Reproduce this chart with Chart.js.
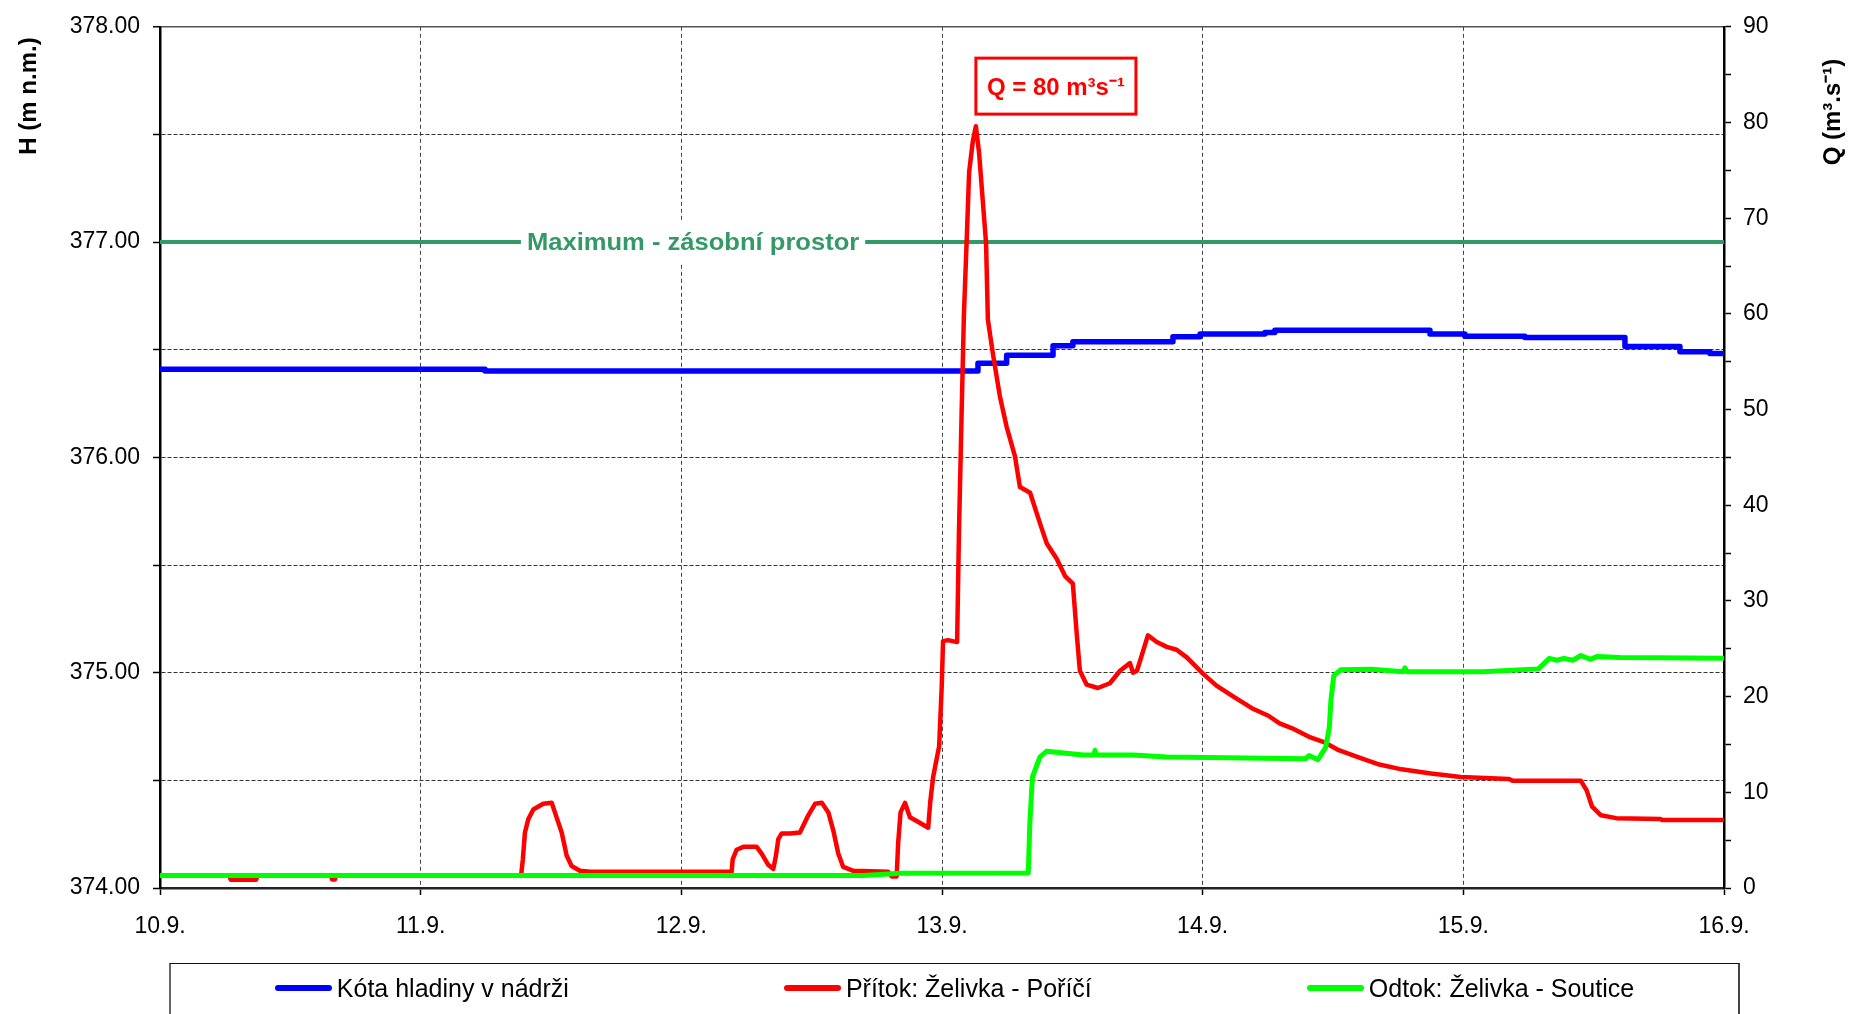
<!DOCTYPE html>
<html>
<head>
<meta charset="utf-8">
<script src="https://cdn.jsdelivr.net/npm/chart.js@4.4.1/dist/chart.umd.min.js"></script>
<style>
html,body{margin:0;padding:0;background:#fff;overflow:hidden;width:1849px;height:1014px}
#wrap{position:relative;width:1849px;height:1014px}
#c{position:absolute;left:0;top:0}
#legend{position:absolute;left:169px;top:963px;width:1571px;height:80px;box-sizing:border-box;
  border-top:1px solid #111;border-left:2px solid #666;border-right:2px solid #444;
  display:flex;justify-content:center;align-items:flex-start;gap:215px;padding-top:10px;
  font-family:"Liberation Sans",Arial,sans-serif;font-size:25px;color:#000}
.item{display:flex;align-items:center;white-space:nowrap;line-height:28px}
.swatch{width:57px;height:6px;border-radius:3px;margin-right:5px}
</style>
</head>
<body>
<div id="wrap">
<canvas id="c" width="1849" height="1014" style="width:1849px;height:1014px"></canvas>
<div id="legend"></div>
</div>
<script>
// ---- tick labels (x = days since 10.9.) ----
const xLabels = ['10.9.', '11.9.', '12.9.', '13.9.', '14.9.', '15.9.', '16.9.'];

// ---- Kóta hladiny v nádrži (m n.m.), stepwise ----
const levelT = [0, 1.247, 3.138, 3.248, 3.426, 3.502, 3.886, 3.99, 4.239, 4.277, 4.872, 5.006, 5.236, 5.620, 5.831, 5.946, 6.0];
const levelH = [376.41, 376.401, 376.437, 376.475, 376.518, 376.537, 376.56, 376.573, 376.580, 376.591, 376.573, 376.563, 376.557, 376.515, 376.491, 376.483, 376.483];

// ---- Přítok: Želivka - Poříčí (m3/s) ----
const inflowT = [0, 0.265, 0.272, 0.368, 0.376, 0.656, 0.660, 0.671, 0.675, 1.384, 1.386, 1.392, 1.400, 1.413, 1.432, 1.470, 1.503, 1.515, 1.541, 1.560, 1.579, 1.611, 1.65,
  2.193, 2.197, 2.212, 2.238, 2.289, 2.308, 2.334, 2.353, 2.363, 2.372, 2.385, 2.417, 2.455, 2.487, 2.513, 2.539, 2.564, 2.583, 2.602, 2.621, 2.660,
  2.794, 2.807, 2.826, 2.832, 2.841, 2.858, 2.877, 2.903, 2.947, 2.955, 2.966, 2.989, 2.999, 3.004, 3.023, 3.058, 3.065, 3.075, 3.084, 3.095, 3.104,
  3.118, 3.130, 3.142, 3.157, 3.169, 3.176, 3.196, 3.222, 3.248, 3.280, 3.299, 3.338, 3.376, 3.402, 3.440, 3.472, 3.502, 3.517, 3.529, 3.555,
  3.598, 3.644, 3.683, 3.721, 3.733, 3.748, 3.790, 3.824, 3.862, 3.900, 3.939, 4.001, 4.053, 4.124, 4.195, 4.252, 4.295, 4.351, 4.408, 4.465,
  4.522, 4.593, 4.678, 4.763, 4.876, 4.990, 5.175, 5.189, 5.451, 5.473, 5.494, 5.528, 5.586, 5.757, 5.762, 6.0];
const inflowQ = [1.3, 1.3, 0.85, 0.85, 1.3, 1.3, 0.9, 0.9, 1.3, 1.3, 1.5, 3.0, 5.8, 7.2, 8.2, 8.8, 8.9, 7.9, 5.8, 3.4, 2.3, 1.8, 1.7,
  1.7, 3.0, 4.0, 4.3, 4.3, 3.6, 2.4, 2.0, 3.4, 5.1, 5.7, 5.7, 5.8, 7.6, 8.8, 8.9, 7.9, 6.0, 3.6, 2.2, 1.8,
  1.7, 1.2, 1.2, 4.8, 7.9, 8.9, 7.4, 7.0, 6.3, 9.0, 11.6, 14.8, 21.1, 25.8, 25.9, 25.7, 37.1, 49.3, 59.9, 67.9, 74.8,
  78.0, 79.6, 76.9, 71.6, 67.4, 59.4, 55.7, 51.4, 48.2, 45.1, 41.9, 41.3, 38.1, 36.0, 34.4, 32.6, 31.8, 26.5, 22.7, 21.25,
  20.9, 21.4, 22.7, 23.5, 22.5, 22.7, 26.4, 25.7, 25.2, 24.9, 24.1, 22.4, 21.15, 19.9, 18.7, 18.0, 17.2, 16.6, 15.8, 15.25,
  14.4, 13.7, 12.9, 12.4, 11.96, 11.6, 11.4, 11.2, 11.2, 10.2, 8.5, 7.6, 7.3, 7.2, 7.1, 7.1];

// ---- Odtok: Želivka - Soutice (m3/s) ----
const outflowT = [0, 2.70, 2.84, 3.331, 3.337, 3.347, 3.376, 3.402, 3.542, 3.583, 3.587, 3.591, 3.733, 3.862, 4.394, 4.408, 4.442, 4.472, 4.486, 4.492,
  4.503, 4.529, 4.649, 4.768, 4.776, 4.784, 5.075, 5.288, 5.330, 5.359, 5.386, 5.420, 5.451, 5.486, 5.515, 5.601, 6.0];
const outflowQ = [1.3, 1.3, 1.55, 1.58, 6.8, 11.6, 13.7, 14.3, 13.9, 13.9, 14.4, 13.9, 13.9, 13.7, 13.5, 13.85, 13.4, 14.7, 16.8, 19.6,
  22.2, 22.8, 22.85, 22.6, 23.0, 22.6, 22.6, 22.9, 24.0, 23.8, 24.0, 23.8, 24.3, 23.9, 24.2, 24.1, 24.0];

// ---- Maximum - zásobní prostor ----
const maxLevel = 377.0;
const maxText = 'Maximum - zásobní prostor';
const maxTextAt = 2.045;          // day position of the label centre

// ---- peak annotation ----
const peakText = 'Q = 80 m³s⁻¹';
const peakBoxAt = [3.437, 83.8];  // [day, Q] of the box centre

const seriesNames = ['Kóta hladiny v nádrži', 'Přítok: Želivka - Poříčí', 'Odtok: Želivka - Soutice'];
const seriesColors = ['#0000ff', '#ff0000', '#00ff00'];

const FONT = '"Liberation Sans", Arial, sans-serif';
Chart.defaults.font.family = FONT;
Chart.defaults.color = '#000';

const pts = (ts, vs) => ts.map((t, i) => ({x: t, y: vs[i]}));

const overlay = {
  id: 'overlay',
  afterDatasetsDraw(chart) {
    const {ctx, scales} = chart;
    const x = scales.x, yH = scales.yH, yQ = scales.yQ;
    ctx.save();
    // maximum label over its line
    ctx.font = 'bold 24px ' + FONT;
    const sx = 1.065;
    const mx = x.getPixelForValue(maxTextAt), my = yH.getPixelForValue(maxLevel);
    const mw = ctx.measureText(maxText).width * sx;
    ctx.fillStyle = '#fff';
    ctx.fillRect(mx - mw / 2 - 6, my - 20, mw + 12, 42);
    ctx.fillStyle = '#339966';
    ctx.textAlign = 'center';
    ctx.textBaseline = 'middle';
    ctx.save();
    ctx.translate(mx, my + 1);
    ctx.scale(sx, 1);
    ctx.fillText(maxText, 0, 0);
    ctx.restore();
    // peak annotation box
    const bx = x.getPixelForValue(peakBoxAt[0]), by = yQ.getPixelForValue(peakBoxAt[1]);
    ctx.font = 'bold 24px ' + FONT;
    const pw = ctx.measureText(peakText).width;
    const bw = pw + 22, bh = 56;
    ctx.fillStyle = '#fff';
    ctx.fillRect(bx - bw / 2, by - bh / 2, bw, bh);
    ctx.lineWidth = 3;
    ctx.strokeStyle = '#ff0000';
    ctx.strokeRect(bx - bw / 2, by - bh / 2, bw, bh);
    ctx.fillStyle = '#ff0000';
    ctx.fillText(peakText, bx, by + 2);
    ctx.restore();
  },
  afterDraw(chart) {
    const {ctx} = chart;
    ctx.save();
    ctx.font = 'bold 24px ' + FONT;
    ctx.fillStyle = '#000';
    ctx.textAlign = 'center';
    ctx.textBaseline = 'middle';
    ctx.translate(29, 96);
    ctx.rotate(-Math.PI / 2);
    ctx.fillText('H (m n.m.)', 0, 0);
    ctx.restore();
    ctx.save();
    ctx.font = 'bold 24px ' + FONT;
    ctx.fillStyle = '#000';
    ctx.textAlign = 'center';
    ctx.textBaseline = 'middle';
    ctx.translate(1833, 112);
    ctx.rotate(-Math.PI / 2);
    ctx.fillText('Q (m³.s⁻¹)', 0, 0);
    ctx.restore();
  }
};

const chart = new Chart(document.getElementById('c'), {
  type: 'line',
  data: {
    datasets: [
      {label: seriesNames[0], data: pts(levelT, levelH), yAxisID: 'yH', borderColor: seriesColors[0], borderWidth: 5.5, stepped: true, order: 3},
      {label: seriesNames[1], data: pts(inflowT, inflowQ), yAxisID: 'yQ', borderColor: seriesColors[1], borderWidth: 4.5, order: 2},
      {label: seriesNames[2], data: pts(outflowT, outflowQ), yAxisID: 'yQ', borderColor: seriesColors[2], borderWidth: 5, order: 1},
      {label: 'max', data: [{x: 0, y: maxLevel}, {x: 6, y: maxLevel}], yAxisID: 'yH', borderColor: '#339966', borderWidth: 4, order: 4}
    ]
  },
  options: {
    responsive: false,
    animation: false,
    devicePixelRatio: 1,
    events: [],
    layout: {padding: {top: 24, left: 0, right: 0, bottom: 0}},
    elements: {
      point: {radius: 0},
      line: {tension: 0, borderJoinStyle: 'round', borderCapStyle: 'round', fill: false}
    },
    plugins: {legend: {display: false}, tooltip: {enabled: false}},
    scales: {
      x: {
        type: 'linear', min: 0, max: 6,
        afterFit: s => { s.height = 126; },
        ticks: {stepSize: 1, autoSkip: false, maxRotation: 0, padding: 18, font: {size: 23}, color: '#000',
          callback: v => xLabels[v] !== undefined ? xLabels[v] : ''},
        grid: {color: c => (c.tick && (c.tick.value === 0 || c.tick.value === 6)) ? 'rgba(0,0,0,0)' : '#444',
          lineWidth: 1, tickLength: 7, tickColor: '#000', tickWidth: 1.5},
        border: {color: '#222', width: 2.5, dash: [4, 3]}
      },
      yH: {
        type: 'linear', position: 'left', min: 374, max: 378,
        afterFit: s => { s.width = 160; },
        ticks: {stepSize: 0.5, autoSkip: false, padding: 13, font: {size: 23}, color: '#000',
          callback: v => Number.isInteger(v) ? v.toFixed(2) : ''},
        grid: {color: c => (c.tick && c.tick.value === 374) ? 'rgba(0,0,0,0)' : (c.tick && c.tick.value === 378 ? '#555' : '#333'),
          lineWidth: c => (c.tick && c.tick.value === 378) ? 1.5 : 1, tickLength: 7, tickColor: '#000', tickWidth: 1.5},
        border: {color: '#000', width: 2.5, dash: c => (c.tick && c.tick.value === 378) ? [] : [4, 2]}
      },
      yQ: {
        type: 'linear', position: 'right', min: 0, max: 90,
        afterFit: s => { s.width = 125; },
        ticks: {stepSize: 5, autoSkip: false, padding: 12, font: {size: 23}, color: '#000',
          callback: v => (v % 10 === 0) ? String(v) : ''},
        grid: {drawOnChartArea: false, tickLength: 7, tickColor: '#000', tickWidth: 1.5},
        border: {color: '#000', width: 2.5}
      }
    }
  },
  plugins: [overlay]
});

// legend from the chart's own datasets
const lg = document.getElementById('legend');
chart.data.datasets.slice(0, 3).forEach(ds => {
  const it = document.createElement('div');
  it.className = 'item';
  const sw = document.createElement('span');
  sw.className = 'swatch';
  sw.style.background = ds.borderColor;
  const tx = document.createElement('span');
  tx.textContent = ds.label;
  it.appendChild(sw); it.appendChild(tx);
  lg.appendChild(it);
});
</script>
</body>
</html>
